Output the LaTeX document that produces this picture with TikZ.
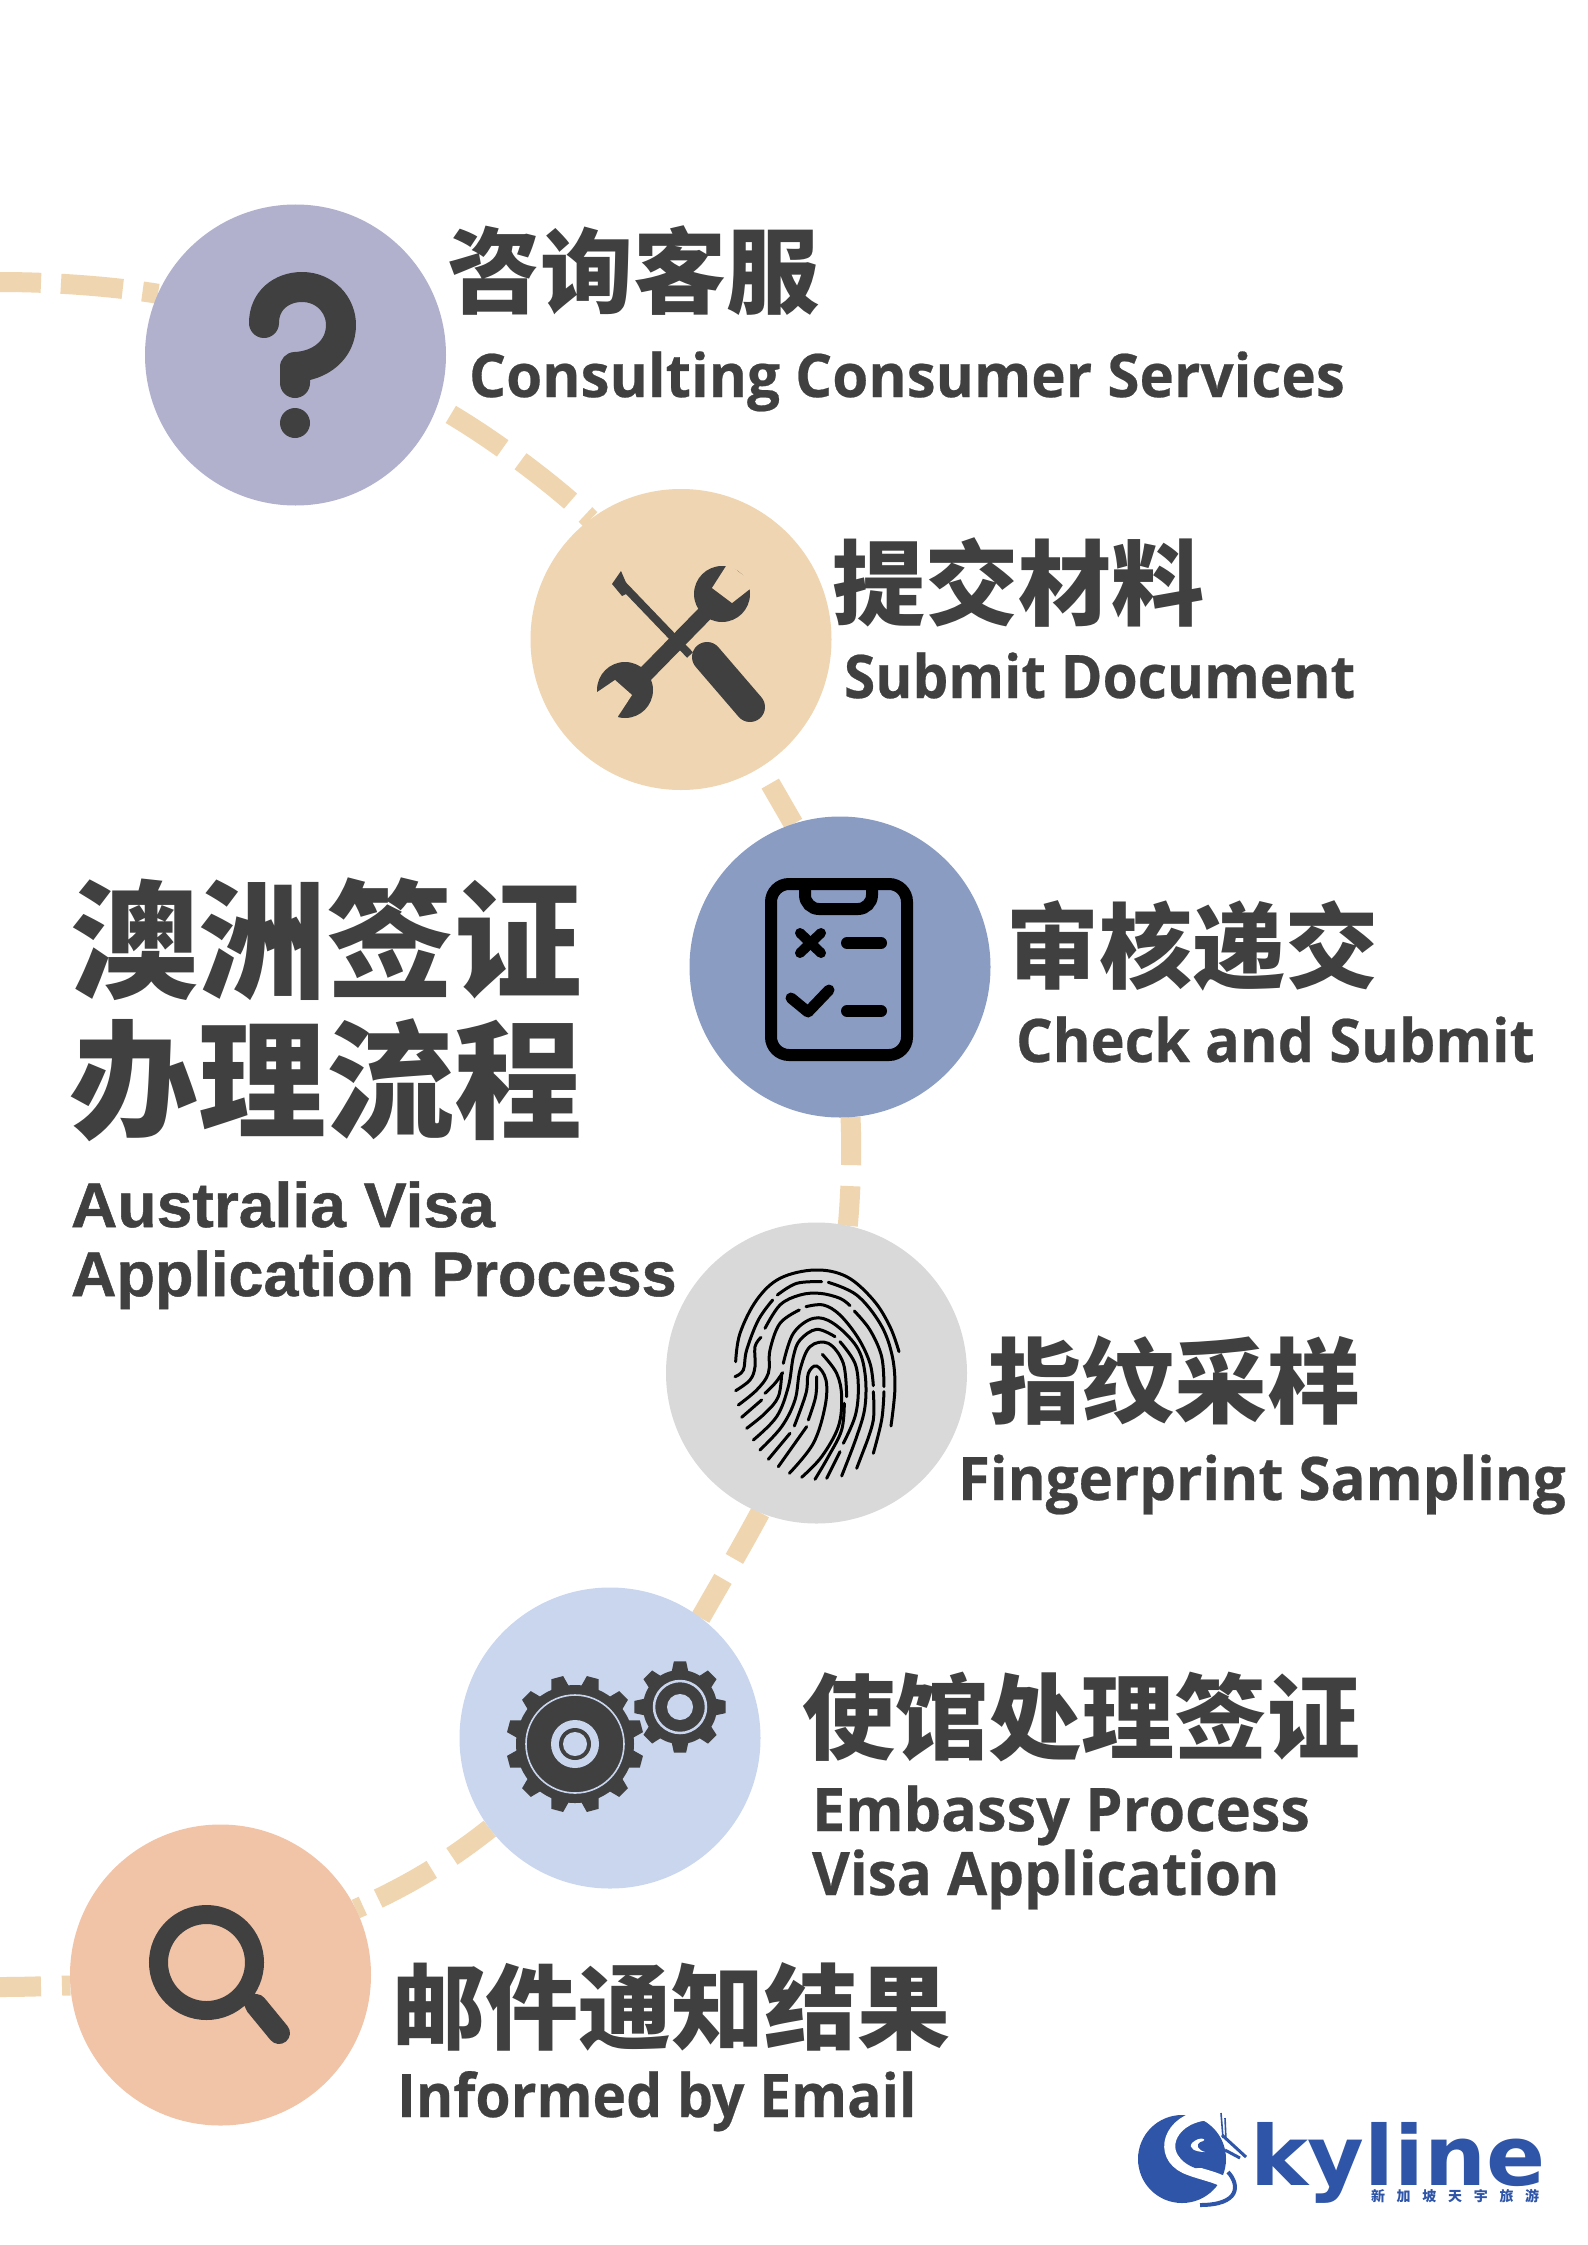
\documentclass[tikz,border=0pt]{standalone}
\usepackage{fontspec}
\usepackage{graphicx}
\usetikzlibrary{backgrounds}
\newfontfamily\cjkf{Noto Sans CJK SC}
\newfontfamily\logof[FakeStretch=1.05]{DejaVu Sans}
\newfontfamily\stepf[BoldFeatures={FakeBold=0.4}]{Open Sans}
\newfontfamily\headf[BoldFeatures={FakeBold=0.8}]{Liberation Sans}
\definecolor{pathc}{HTML}{EFD6B0}
\definecolor{inkc}{HTML}{404040}
\definecolor{logoc}{HTML}{2F55A8}
\definecolor{cA}{HTML}{B1B1CE}
\definecolor{cB}{HTML}{EFD5B1}
\definecolor{cC}{HTML}{8B9CC3}
\definecolor{cD}{HTML}{D9D9D9}
\definecolor{cE}{HTML}{C9D6EE}
\definecolor{cF}{HTML}{F1C4A8}
\tikzset{
  disc/.style={circle,minimum size=301pt,inner sep=0pt,outer sep=0pt,fill=#1},
  conn/.style={draw=pathc,line width=20pt},
  zh/.style={anchor=base west,inner sep=0pt,outer sep=0pt,text=inkc,font=\cjkf\bfseries\fontsize{93}{93}\selectfont},
  zhbig/.style={anchor=base west,inner sep=0pt,outer sep=0pt,text=inkc,font=\cjkf\bfseries\fontsize{128}{128}\selectfont},
  en/.style={anchor=base west,inner sep=0pt,outer sep=0pt,text=inkc,font=\stepf\bfseries\fontsize{60}{60}\selectfont},
  enhead/.style={anchor=base west,inner sep=0pt,outer sep=0pt,text=inkc,font=\headf\bfseries\fontsize{63}{63}\selectfont},
  ridge/.style={draw=black,line width=3pt,line cap=round},
}
\newcommand{\gearshape}[7]{% cx cy rout rroot n phase colour
  \fill[#7] (#1,#2) circle (#4);
  \pgfmathsetmacro{\gstep}{360/#5}
  \foreach \gi in {1,...,#5}{
    \pgfmathsetmacro{\ga}{#6+\gi*\gstep}
    \pgfmathsetmacro{\gb}{\gstep*0.30}
    \pgfmathsetmacro{\gc}{\gstep*0.17}
    \fill[#7,shift={(#1,#2)}] (\ga-\gb:#4-1) -- (\ga-\gc:#3) -- (\ga+\gc:#3) -- (\ga+\gb:#4-1) -- cycle;
  }
}
\newcommand{\rdg}[1]{\draw[ridge] plot[smooth,tension=0.6] coordinates {#1};}
\newcommand{\fitw}[2]{\scalebox{#1}[1]{#2}}
\begin{document}
\begin{tikzpicture}[x=1pt,y=-1pt]
\useasboundingbox (0,0) rectangle (1587,2245);

% discs
\node[disc=cA] (n1) at (295.5,355) {};
\node[disc=cB] (n2) at (681,639.5) {};
\node[disc=cC] (n3) at (840,967) {};
\node[disc=cD] (n4) at (816.5,1373) {};
\node[disc=cE] (n5) at (610,1738) {};
\node[disc=cF] (n6) at (220.5,1975) {};
\coordinate (startL) at (0,282);
\coordinate (endL) at (0,1987);

% connectors
\begin{scope}[on background layer]
\fill[white] (0,0) rectangle (1587,2245);
\draw[conn,dash pattern=on 41pt off 20pt on 62pt off 20pt on 40pt] (startL) .. controls (50,282) and (110,286) .. (n1.156);
\draw[conn,dash pattern=on 0pt off 16pt on 62pt off 22pt on 64pt off 20pt on 40pt] (n1.-20) .. controls (480,430) and (550,480) .. (n2.127);
\draw[conn,dash pattern=on 0pt off 19pt on 100pt] (n2.-58) -- (n3.108);
\draw[conn,dash pattern=on 48pt off 21pt on 60pt] (n3.-86) .. controls (852,1150) and (851,1190) .. (n4.78);
\draw[conn,dash pattern=on 53pt off 23pt on 60pt] (n4.-112) .. controls (740,1550) and (725,1575) .. (n5.53);
\draw[conn,dash pattern=on 47pt off 24pt on 61pt off 17pt on 40pt] (n5.-143) .. controls (450,1860) and (410,1885) .. (n6.26);
\draw[conn,dash pattern=on 41pt off 21pt on 40pt] (endL) .. controls (25,1987) and (50,1986) .. (n6.-176);
\end{scope}

% question mark
\draw[inkc,line width=30pt,line cap=round,line join=round] (264,323) .. controls (264,300) and (282,287) .. (302,287) .. controls (325,287) and (341,305) .. (341,325) .. controls (341,350) and (320,366) .. (295,367) -- (295,383);
\fill[inkc] (295,423) ellipse (15 and 15);

% tools
\draw[inkc,line width=8pt] (620,582) -- (690,655);
\fill[inkc] (612,584) -- (621,571) -- (630,592) -- (622,596) -- cycle;
\draw[inkc,line width=30pt,line cap=round] (707,657) -- (750,707);
\draw[inkc,line width=16pt] (624,696) -- (720,598);
\fill[inkc] (722,594) circle (28);
\fill[cB] (728,563) -- (755,585) -- (732,603) -- (712,588) -- cycle;
\fill[inkc] (625,690) circle (28);
\fill[cB] (590,697) -- (613,724) -- (632,695) -- (615,680) -- cycle;

% clipboard
\draw[black,line width=12pt,rounded corners=18pt] (771,884) rectangle (907,1055);
\draw[black,line width=12pt,rounded corners=14pt] (805,884) -- (805,909) -- (872,909) -- (872,884);
\draw[black,line width=10pt,line cap=round] (800,933) -- (821,953);
\draw[black,line width=10pt,line cap=round] (800,953) -- (821,933);
\draw[black,line width=11pt,line cap=round,line join=round] (791,998) -- (808,1012) -- (829,990);
\draw[black,line width=12pt,line cap=round] (847,943) -- (881,943);
\draw[black,line width=12pt,line cap=round] (847,1011) -- (881,1011);

% fingerprint
\begin{scope}[shift={(700,1240)},x=0.3333pt,y=-0.3333pt]
\rdg{(107,365) (120,280) (170,180) (240,115) (345,90) (440,110) (520,180) (570,260) (597,335)}
\rdg{(105,410) (130,390) (140,330) (175,240) (218,180)}
\rdg{(232,165) (290,130) (365,125)}
\rdg{(385,127) (470,165) (540,250) (575,340) (585,440) (573,558)}
\rdg{(107,452) (150,420) (165,380) (165,320) (183,292)}
\rdg{(195,265) (240,195) (300,165) (360,160) (420,175) (450,197)}
\rdg{(463,213) (510,270) (545,350) (552,440)}
\rdg{(520,455) (520,540) (495,620)}
\rdg{(115,495) (170,450) (205,400) (210,330) (240,250) (298,210)}
\rdg{(318,200) (370,195) (420,225) (475,295) (510,370) (520,437)}
\rdg{(552,455) (545,540) (520,640)}
\rdg{(495,620) (470,685)}
\rdg{(125,532) (185,480)}
\rdg{(140,565) (195,520) (235,470) (245,400)}
\rdg{(250,370) (280,280) (340,235) (400,250) (470,320) (495,400) (495,500) (470,590) (425,708)}
\rdg{(160,600) (230,530) (265,440) (280,350) (300,300) (350,268) (405,290)}
\rdg{(420,305) (465,370) (475,450) (465,530) (430,610)}
\rdg{(420,635) (380,715)}
\rdg{(180,630) (245,560) (285,480) (300,390) (330,320) (385,310) (430,370) (440,470)}
\rdg{(433,490) (425,570) (385,650) (345,718)}
\rdg{(205,658) (270,580)}
\rdg{(235,680) (320,560)}
\rdg{(195,460) (225,430) (248,398)}
\rdg{(268,700) (340,610) (375,500) (378,420) (350,378) (325,400) (318,460) (283,558)}
\rdg{(350,410) (347,470) (325,540)}
\rdg{(367,343) (410,400) (425,470) (415,560) (365,650) (305,712)}
\end{scope}

% gears
\gearshape{575}{1744}{69}{59}{12}{15}{inkc}
\draw[cE,line width=1.6pt] (575,1744) circle (49);
\fill[cE] (575,1744) circle (24);
\fill[inkc] (575,1744) circle (16);
\fill[cE] (575,1744) circle (12);
\gearshape{680}{1707}{46}{37}{8}{0}{inkc}
\draw[cE,line width=2.5pt] (680,1707) circle (26);
\fill[cE] (680,1707) circle (13);

% magnifier
\draw[inkc,line width=19pt] (206.5,1962.5) circle (48);
\draw[inkc,line width=16pt] (247,1996) -- (262,2016);
\draw[inkc,line width=22pt,line cap=round] (256,2005) -- (279,2033);

% texts
\node[zh] (t1) at (447,306) {咨询客服};
\node[en] (e1) at (469,397) {\fitw{0.972}{Consulting Consumer Services}};
\node[zh] (t2) at (832,618) {提交材料};
\node[en] (e2) at (844,698) {\fitw{0.945}{Submit Document}};
\node[zh] (t3) at (1006,981) {审核递交};
\node[en] (e3) at (1016,1062) {\fitw{0.961}{Check and Submit}};
\node[zh] (t4) at (988,1416) {指纹采样};
\node[en] (e4) at (958,1500) {\fitw{0.968}{Fingerprint Sampling}};
\node[zh] (t5) at (802,1752) {使馆处理签证};
\node[en] (e5) at (812,1831) {\fitw{0.99}{Embassy Process}};
\node[en] (e5b) at (812,1895) {\fitw{0.972}{Visa Application}};
\node[zh] (t6) at (392,2042) {邮件通知结果};
\node[en] (e6) at (397,2117) {\fitw{0.95}{Informed by Email}};
\node[zhbig] (h1) at (70,988) {澳洲签证};
\node[zhbig] (h2) at (70,1128) {办理流程};
\node[enhead] (h3) at (71,1227) {\fitw{1.02}{Australia Visa}};
\node[enhead] (h4) at (71,1296) {\fitw{1.0}{Application Process}};

% logo
\fill[logoc] (1182,2159) circle (44);
\draw[white,line width=11pt,line cap=round] (1205,2115) .. controls (1168,2120) and (1158,2155) .. (1185,2168) .. controls (1205,2177) and (1233,2178) .. (1232,2195) .. controls (1230,2205) and (1215,2207) .. (1205,2207);
\draw[logoc,line width=4pt] (1228,2172) .. controls (1240,2185) and (1240,2205) .. (1200,2205);
\fill[logoc] (1178,2147) .. controls (1184,2128) and (1205,2125) .. (1225,2150) .. controls (1225,2165) and (1212,2168) .. (1195,2168) .. controls (1182,2163) and (1176,2155) .. (1178,2147) -- cycle;
\fill[white] (1192,2143) .. controls (1200,2135) and (1210,2140) .. (1200,2142) .. controls (1195,2145) and (1198,2150) .. (1205,2152) .. controls (1195,2152) and (1188,2148) .. (1192,2143) -- cycle;
\draw[logoc,line width=1.6pt] (1221,2113) -- (1223,2138) (1225,2118) -- (1226,2140);
\draw[logoc,line width=3pt] (1222,2135) -- (1246,2157) (1225,2150) -- (1240,2158);
\node[anchor=base west,inner sep=0pt,outer sep=0pt,text=logoc,font=\logof\bfseries\fontsize{83}{83}\selectfont] (lg) at (1250,2185) {kyline};
\node[anchor=base west,inner sep=0pt,outer sep=0pt,text=logoc,font=\cjkf\bfseries\fontsize{14}{14}\selectfont] (lgz) at (1371,2201) {新\hspace{11.7pt}加\hspace{11.7pt}坡\hspace{11.7pt}天\hspace{11.7pt}宇\hspace{11.7pt}旅\hspace{11.7pt}游};
\end{tikzpicture}
\end{document}
